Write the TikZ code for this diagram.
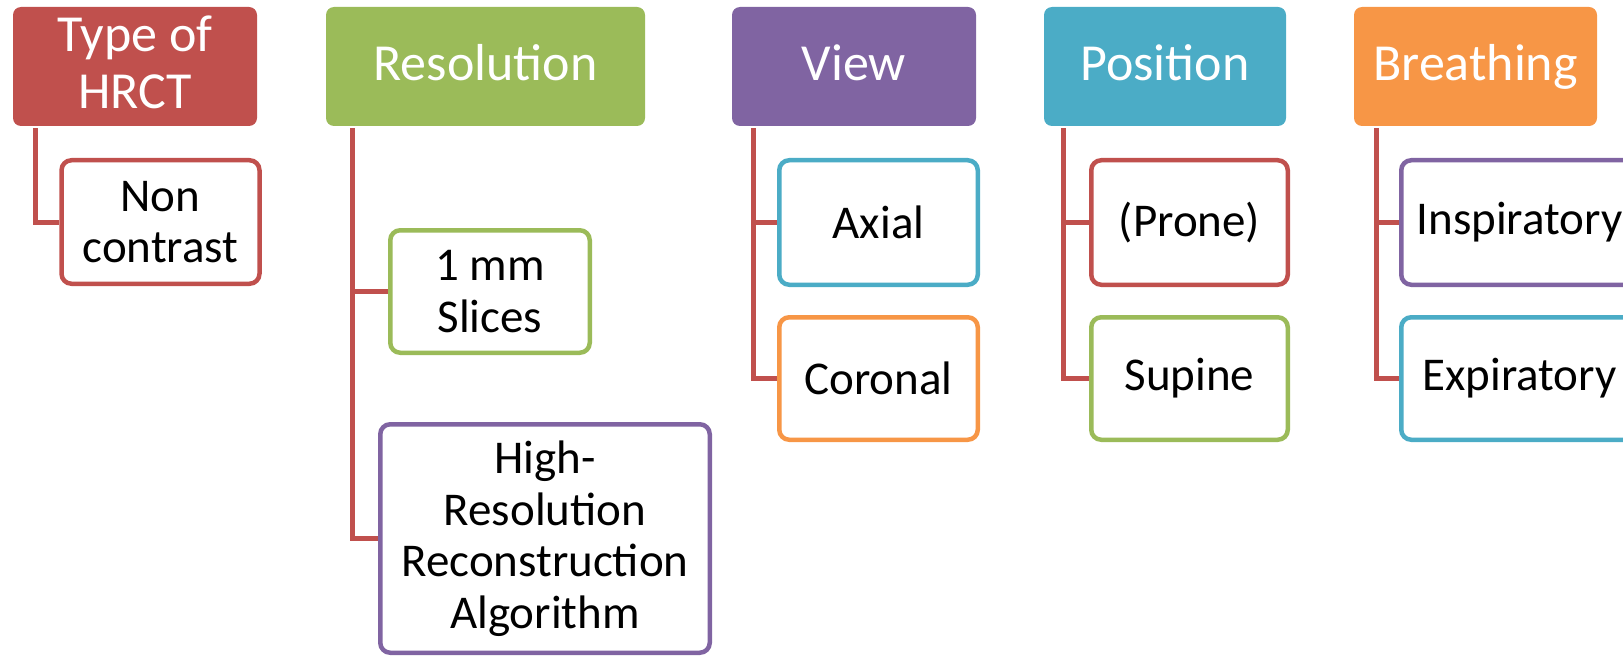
\documentclass[tikz,border=0pt]{standalone}
\usepackage{fontspec}
\setmainfont{Carlito}
\definecolor{accred}{HTML}{C0504D}
\definecolor{accgreen}{HTML}{9BBB59}
\definecolor{accpurple}{HTML}{8064A2}
\definecolor{accaqua}{HTML}{4BACC6}
\definecolor{accorange}{HTML}{F79646}
\tikzset{
  header/.style={rectangle, rounded corners=8pt, inner sep=0pt, fill=#1,
    text=white, align=center, font=\fontsize{52}{57}\selectfont,
    text depth=8pt, minimum height=119pt},
  leaf/.style={rectangle, rounded corners=10pt, inner sep=0pt, draw=#1,
    line width=4.5pt, fill=white, text=black, align=center,
    font=\fontsize{47}{51.5}\selectfont},
  link/.style={draw=accred, line width=5pt, line join=miter}
}
\begin{document}
\begin{tikzpicture}[x=1pt,y=-1pt]
\useasboundingbox (0,0) rectangle (1623,658);
\clip (0,0) rectangle (1623,658);

% column headers
\node[header=accred, minimum width=244pt] (ty) at (135,66.5) {Type of\\HRCT};
\node[header=accgreen, minimum width=319pt] (re) at (485.5,66.5) {Resolution};
\node[header=accpurple, minimum width=244pt] (vi) at (854,66.5) {View};
\node[header=accaqua, minimum width=242pt] (po) at (1165,66.5) {Position};
\node[header=accorange, minimum width=243pt] (br) at (1475.5,66.5) {Breathing};

% items below each header
\node[leaf=accred, minimum width=198pt, minimum height=123.5pt] (nc) at (160.5,222) {Non\\contrast};
\node[leaf=accgreen, minimum width=199.5pt, minimum height=122.5pt] (mm) at (490,291.5) {1 mm\\Slices};
\node[leaf=accpurple, minimum width=329.5pt, minimum height=228.5pt] (hr) at (545,538.5) {High-\\Resolution\\Reconstruction\\Algorithm};
\node[leaf=accaqua, minimum width=198.5pt, minimum height=124.5pt] (ax) at (878.5,222.5) {Axial};
\node[leaf=accorange, minimum width=198.5pt, minimum height=122.5pt] (co) at (878.5,378.5) {Coronal};
\node[leaf=accred, minimum width=196.5pt, minimum height=124.5pt] (pr) at (1189.5,222.5) {(Prone)};
\node[leaf=accgreen, minimum width=196.5pt, minimum height=122.5pt] (su) at (1189.5,378.5) {Supine};
\node[leaf=accpurple, minimum width=236.5pt, minimum height=124.5pt] (in) at (1519.5,222.5) {Inspiratory};
\node[leaf=accaqua, minimum width=236.5pt, minimum height=122.5pt] (ex) at (1519.5,378.5) {Expiratory};

% tree connectors
\draw[link] ([shift={(23,2)}]ty.south west) |- (nc.west);
\draw[link] ([shift={(27,2)}]re.south west) |- (mm.west);
\draw[link] ([shift={(27,2)}]re.south west) |- (hr.west);
\draw[link] ([shift={(22,2)}]vi.south west) |- (ax.west);
\draw[link] ([shift={(22,2)}]vi.south west) |- (co.west);
\draw[link] ([shift={(20,2)}]po.south west) |- (pr.west);
\draw[link] ([shift={(20,2)}]po.south west) |- (su.west);
\draw[link] ([shift={(23,2)}]br.south west) |- (in.west);
\draw[link] ([shift={(23,2)}]br.south west) |- (ex.west);
\end{tikzpicture}
\end{document}
